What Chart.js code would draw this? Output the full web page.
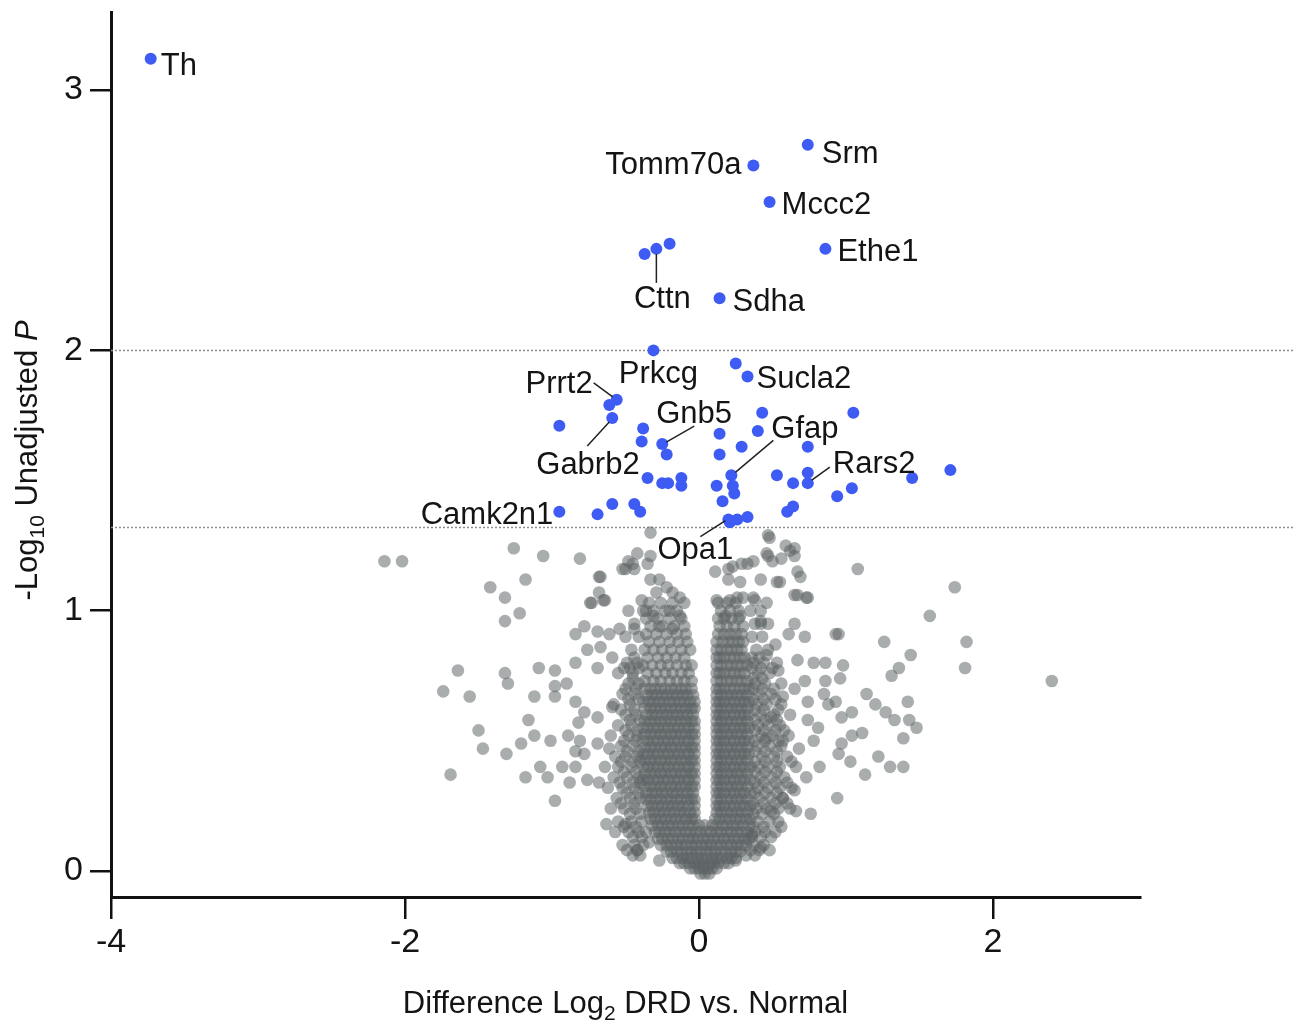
<!DOCTYPE html>
<html>
<head>
<meta charset="utf-8">
<script src="https://cdn.jsdelivr.net/npm/chart.js@4.4.0/dist/chart.umd.min.js"></script>
<style>
  body { margin: 0; background: #fff; }
  #volcano { display: block; }
</style>
</head>
<body>
<canvas id="volcano" width="1295" height="1022"></canvas>
<script>
// axis ticks and significance cut-offs
const xTicks = [-4, -2, 0, 2]
const yTicks = [0, 1, 2, 3]
const thresholds = [2.0, 1.32]

// highlighted proteins (blue)
const hitX = [-3.73, 0.74, 0.37, 0.48, 0.86, -0.37, -0.29, -0.20, 0.14, -0.31,
              0.25, 0.33, -0.56, -0.61, -0.59, -0.95, -0.38, -0.39, -0.25, -0.22,
              -0.35, -0.25, -0.21, -0.12, -0.12, -0.59, -0.44, -0.40, -0.69, -0.95,
              0.43, 1.05, 0.40, 0.14, 0.14, 0.29, 0.74, 0.22, 0.53, 0.74,
              0.74, 0.64, 0.12, 0.23, 0.24, 0.16, 0.94, 1.04, 0.60, 0.64,
              0.20, 0.26, 0.33, 0.21, 1.45, 1.71]
const hitY = [3.12, 2.79, 2.71, 2.57, 2.39, 2.37, 2.39, 2.41, 2.20, 2.00,
              1.95, 1.90, 1.81, 1.79, 1.74, 1.71, 1.70, 1.65, 1.64, 1.60,
              1.51, 1.49, 1.49, 1.51, 1.48, 1.41, 1.41, 1.38, 1.37, 1.38,
              1.76, 1.76, 1.69, 1.68, 1.60, 1.63, 1.63, 1.52, 1.52, 1.53,
              1.49, 1.49, 1.48, 1.48, 1.45, 1.42, 1.44, 1.47, 1.38, 1.40,
              1.35, 1.35, 1.36, 1.34, 1.51, 1.54]
const hitNames = ['Th', 'Srm', 'Tomm70a', 'Mccc2', 'Ethe1', '', 'Cttn', '', 'Sdha', 'Prkcg',
                  '', 'Sucla2', 'Prrt2', '', 'Gabrb2', '', '', '', 'Gnb5', '',
                  '', '', '', '', '', '', '', '', '', 'Camk2n1',
                  '', '', '', '', '', '', '', 'Gfap', '', '',
                  'Rars2', '', '', '', '', '', '', '', '', '',
                  'Opa1', '', '', '', '', '']

// scattered grey proteins [x, y]
const grayScatter = [
  [-2.14, 1.19], [-2.02, 1.19], [-1.26, 1.24], [-1.06, 1.21], [-0.81, 1.20], [-1.18, 1.12], [-1.42, 1.09],
  [-1.32, 1.05], [-1.22, 0.99], [-1.32, 0.96], [-0.68, 1.13], [-0.68, 1.07], [-0.74, 1.03], [-0.64, 1.04],
  [-0.52, 1.16], [-0.44, 1.16], [-0.48, 1.19], [-0.42, 1.22], [-0.33, 1.21], [-0.33, 1.30],
  [-1.64, 0.77], [-1.74, 0.69], [-1.56, 0.67], [-1.32, 0.76], [-1.30, 0.72], [-1.12, 0.67], [-1.09, 0.78],
  [-0.98, 0.77], [-0.98, 0.71], [-0.98, 0.67], [-0.90, 0.72], [-0.84, 0.65], [-0.84, 0.91], [-0.78, 0.94],
  [-0.69, 0.92], [-0.61, 0.91], [-0.54, 0.93], [-0.44, 0.93], [-0.76, 0.85], [-0.67, 0.86], [-0.84, 0.80],
  [-0.69, 0.78], [-0.59, 0.82], [-0.51, 0.78],
  [-1.16, 0.58], [-1.50, 0.54], [-1.47, 0.47], [-1.31, 0.45], [-1.21, 0.49], [-1.12, 0.52], [-1.01, 0.50],
  [-0.89, 0.52], [-0.82, 0.57], [-0.78, 0.61], [-0.69, 0.59], [-0.59, 0.63], [-0.81, 0.50], [-0.84, 0.46],
  [-0.78, 0.45], [-0.69, 0.49], [-0.61, 0.47],
  [-1.69, 0.37], [-1.18, 0.36], [-1.08, 0.40], [-1.03, 0.36], [-0.93, 0.40], [-0.88, 0.34], [-0.84, 0.40],
  [-0.76, 0.35], [-0.68, 0.34], [-0.98, 0.27], [-0.63, 0.18], [-0.57, 0.15], [-0.50, 0.18], [-0.42, 0.08],
  [-0.27, 0.04], [-0.34, 0.11],
  [-0.67, 1.13], [-0.50, 1.16], [-0.45, 1.18], [-0.35, 1.18], [-0.73, 1.03], [-0.65, 1.04], [-0.33, 1.12],
  [-0.27, 1.12], [-0.22, 1.09], [-0.39, 1.04], [-0.29, 1.07], [-0.18, 1.07], [-0.13, 1.05], [-0.38, 1.00],
  [-0.31, 0.98], [-0.20, 1.00], [-0.13, 0.98], [-0.27, 0.94], [-0.18, 0.93],
  [0.48, 1.28], [0.59, 1.25], [0.65, 1.24], [0.65, 1.21], [0.47, 1.21], [0.56, 1.20], [0.50, 1.19],
  [0.37, 1.19], [0.29, 1.18], [0.11, 1.15], [0.20, 1.16], [1.08, 1.16], [1.74, 1.09], [1.57, 0.98],
  [1.82, 0.88], [1.81, 0.78], [2.40, 0.73], [0.95, 0.91], [1.26, 0.88], [1.44, 0.83], [1.36, 0.78],
  [1.31, 0.75],
  [0.69, 1.13], [0.55, 1.11], [0.42, 1.12], [0.37, 1.05], [0.46, 1.03], [0.73, 1.05], [0.65, 1.06],
  [0.42, 0.95], [0.65, 0.95], [0.61, 0.91], [0.72, 0.90], [0.52, 0.87], [0.46, 0.83], [0.67, 0.81],
  [0.78, 0.80], [0.86, 0.80], [0.98, 0.79], [0.96, 0.74], [0.86, 0.73], [0.72, 0.73], [0.54, 0.77],
  [1.14, 0.68], [1.20, 0.64], [1.27, 0.61], [1.33, 0.58], [1.42, 0.65], [1.43, 0.58], [1.48, 0.55],
  [1.39, 0.51], [1.22, 0.44], [1.30, 0.40], [1.39, 0.40], [1.13, 0.37], [1.03, 0.42], [0.94, 0.28],
  [0.76, 0.22], [0.66, 0.23], [0.54, 0.19], [0.42, 0.09], [0.36, 0.14], [0.25, 0.04],
  [0.95, 0.45], [0.97, 0.49], [0.82, 0.40], [1.11, 0.53], [1.04, 0.52], [0.97, 0.59], [1.04, 0.61],
  [0.74, 0.58], [0.74, 0.65], [0.93, 0.65], [0.85, 0.68], [0.65, 0.70], [0.57, 0.67], [0.49, 0.59],
  [0.57, 0.50], [0.46, 0.51], [0.68, 0.47], [0.78, 0.50], [0.73, 0.36], [0.65, 0.31], [0.57, 0.28],
  [0.49, 0.23], [0.81, 0.55], [0.88, 0.64],
  [0.47, 1.29], [0.23, 1.17], [0.33, 1.18], [0.46, 1.22], [0.62, 1.23], [0.67, 1.15], [0.53, 1.11],
  [0.28, 1.11], [0.20, 1.12], [0.12, 1.04], [0.21, 1.04], [0.38, 1.04], [0.67, 1.06], [0.74, 1.05],
  [0.18, 0.98], [0.28, 0.98], [0.42, 0.96], [0.93, 0.91]
]

// dense grey proteins near zero, one row per y value: [y, [x, x, ...]]
const denseRows = [
  [-0.01, [0.01, 0.04, 0.07]],
  [0.01, [-0.06, -0.03, 0.00, 0.03, 0.06, 0.09, 0.12]],
  [0.03, [-0.13, -0.10, -0.07, -0.03, 0.00, 0.03, 0.07, 0.10, 0.13, 0.17, 0.20]],
  [0.05, [-0.18, -0.15, -0.11, -0.08, -0.05, -0.01, 0.02, 0.05, 0.09, 0.12, 0.15, 0.19, 0.22, 0.25]],
  [0.075, [-0.22, -0.19, -0.15, -0.12, -0.08, -0.05, -0.02, 0.01, 0.05, 0.08, 0.11, 0.15, 0.18, 0.22, 0.25, 0.28]],
  [0.10, [-0.26, -0.22, -0.19, -0.15, -0.12, -0.09, -0.05, -0.02, 0.02, 0.05, 0.08, 0.12, 0.15, 0.19, 0.22, 0.26, 0.29, 0.32]],
  [0.125, [-0.28, -0.25, -0.21, -0.18, -0.14, -0.11, -0.07, -0.04, -0.01, 0.03, 0.06, 0.10, 0.13, 0.17, 0.20, 0.24, 0.27, 0.31, 0.34]],
  [0.15, [-0.30, -0.27, -0.23, -0.20, -0.16, -0.13, -0.09, -0.06, -0.02, 0.01, 0.05, 0.08, 0.12, 0.15, 0.19, 0.22, 0.26, 0.29, 0.33]],
  [0.175, [-0.32, -0.28, -0.25, -0.21, -0.18, -0.14, -0.11, -0.07, -0.04, 0.00, 0.04, 0.09, 0.12, 0.16, 0.19, 0.23, 0.26, 0.30, 0.34]],
  [0.20, [-0.33, -0.30, -0.26, -0.23, -0.19, -0.16, -0.12, -0.09, -0.05, -0.03, 0.11, 0.14, 0.18, 0.21, 0.25, 0.28, 0.32, 0.35]],
  [0.225, [-0.34, -0.31, -0.27, -0.24, -0.20, -0.17, -0.13, -0.10, -0.06, -0.03, 0.12, 0.15, 0.19, 0.22, 0.26, 0.29, 0.33]],
  [0.25, [-0.35, -0.32, -0.28, -0.25, -0.21, -0.18, -0.14, -0.11, -0.07, -0.03, 0.12, 0.14, 0.17, 0.21, 0.24, 0.28, 0.31, 0.35]],
  [0.275, [-0.36, -0.33, -0.29, -0.26, -0.22, -0.19, -0.15, -0.12, -0.08, -0.05, -0.03, 0.12, 0.15, 0.19, 0.22, 0.26, 0.29, 0.33]],
  [0.30, [-0.36, -0.32, -0.29, -0.25, -0.22, -0.18, -0.15, -0.11, -0.08, -0.04, 0.12, 0.14, 0.17, 0.21, 0.24, 0.28, 0.31, 0.35]],
  [0.325, [-0.37, -0.33, -0.30, -0.26, -0.23, -0.19, -0.16, -0.12, -0.09, -0.05, -0.03, 0.12, 0.15, 0.19, 0.22, 0.26, 0.29, 0.33]],
  [0.35, [-0.38, -0.35, -0.31, -0.28, -0.24, -0.21, -0.17, -0.14, -0.10, -0.07, -0.03, 0.12, 0.14, 0.17, 0.21, 0.24, 0.28, 0.31, 0.35]],
  [0.375, [-0.37, -0.33, -0.30, -0.26, -0.23, -0.19, -0.16, -0.12, -0.09, -0.05, -0.03, 0.12, 0.15, 0.19, 0.22, 0.26, 0.29, 0.33]],
  [0.40, [-0.38, -0.35, -0.31, -0.28, -0.24, -0.21, -0.17, -0.14, -0.10, -0.07, -0.03, 0.12, 0.14, 0.17, 0.21, 0.24, 0.28, 0.31, 0.35]],
  [0.425, [-0.37, -0.33, -0.30, -0.26, -0.23, -0.19, -0.16, -0.12, -0.09, -0.05, -0.03, 0.12, 0.15, 0.19, 0.22, 0.26, 0.29, 0.33]],
  [0.45, [-0.38, -0.35, -0.31, -0.28, -0.24, -0.21, -0.17, -0.14, -0.10, -0.07, -0.03, 0.12, 0.14, 0.17, 0.21, 0.24, 0.28, 0.31, 0.34]],
  [0.475, [-0.37, -0.33, -0.30, -0.26, -0.23, -0.19, -0.16, -0.12, -0.09, -0.05, -0.03, 0.12, 0.15, 0.19, 0.22, 0.26, 0.29, 0.33]],
  [0.50, [-0.38, -0.35, -0.31, -0.28, -0.24, -0.21, -0.17, -0.14, -0.10, -0.07, -0.03, 0.12, 0.14, 0.17, 0.21, 0.24, 0.28, 0.31, 0.34]],
  [0.525, [-0.37, -0.33, -0.30, -0.26, -0.23, -0.19, -0.16, -0.12, -0.09, -0.05, -0.03, 0.12, 0.15, 0.19, 0.22, 0.26, 0.29, 0.33]],
  [0.55, [-0.38, -0.35, -0.31, -0.28, -0.24, -0.21, -0.17, -0.14, -0.10, -0.07, -0.03, 0.12, 0.14, 0.17, 0.21, 0.24, 0.28, 0.31, 0.34]],
  [0.575, [-0.37, -0.33, -0.30, -0.26, -0.23, -0.19, -0.16, -0.12, -0.09, -0.05, -0.03, 0.12, 0.15, 0.19, 0.22, 0.26, 0.29, 0.33]],
  [0.60, [-0.36, -0.32, -0.29, -0.25, -0.22, -0.18, -0.15, -0.11, -0.08, -0.04, 0.12, 0.14, 0.17, 0.21, 0.24, 0.28, 0.31, 0.34]],
  [0.625, [-0.37, -0.33, -0.30, -0.26, -0.23, -0.19, -0.16, -0.12, -0.09, -0.05, -0.03, 0.12, 0.15, 0.19, 0.22, 0.26, 0.29, 0.33]],
  [0.65, [-0.38, -0.34, -0.31, -0.27, -0.24, -0.20, -0.17, -0.13, -0.10, -0.06, -0.03, 0.12, 0.14, 0.17, 0.21, 0.24, 0.28, 0.31, 0.34]],
  [0.675, [-0.36, -0.32, -0.29, -0.25, -0.22, -0.18, -0.15, -0.11, -0.08, -0.04, 0.12, 0.15, 0.19, 0.22, 0.26, 0.29, 0.33]],
  [0.70, [-0.37, -0.33, -0.30, -0.26, -0.23, -0.19, -0.16, -0.12, -0.09, -0.05, 0.12, 0.14, 0.17, 0.21, 0.24, 0.28, 0.31, 0.34]],
  [0.73, [-0.37, -0.31, -0.26, -0.20, -0.15, -0.10, -0.05, 0.12, 0.15, 0.19, 0.22, 0.26, 0.29, 0.33]],
  [0.76, [-0.35, -0.29, -0.23, -0.18, -0.12, -0.07, 0.12, 0.14, 0.17, 0.21, 0.24, 0.28, 0.31]],
  [0.79, [-0.38, -0.32, -0.26, -0.21, -0.15, -0.09, -0.05, 0.12, 0.15, 0.19, 0.22, 0.26, 0.29, 0.33]],
  [0.82, [-0.35, -0.28, -0.22, -0.16, -0.10, 0.12, 0.14, 0.17, 0.21, 0.24, 0.28, 0.31]],
  [0.85, [-0.37, -0.31, -0.25, -0.19, -0.12, -0.06, 0.12, 0.15, 0.19, 0.22, 0.26, 0.29]],
  [0.88, [-0.34, -0.27, -0.20, -0.14, -0.08, 0.12, 0.16, 0.20, 0.23, 0.27, 0.30]],
  [0.91, [-0.36, -0.29, -0.22, -0.15, -0.09, 0.13, 0.17, 0.21, 0.25, 0.29]],
  [0.94, [-0.33, -0.25, -0.17, -0.10, 0.14, 0.19, 0.24, 0.30]],
  [0.97, [-0.36, -0.28, -0.20, -0.12, 0.13, 0.17, 0.22, 0.27]],
  [1.00, [-0.31, -0.23, -0.15, 0.15, 0.21, 0.27]],
  [1.03, [-0.34, -0.26, -0.18, -0.10, 0.13, 0.19, 0.25]]
]

// grey proteins flanking the dense core
const wingRows = [
  [0.06, [-0.45, -0.40, 0.32, 0.38]],
  [0.08, [-0.49, -0.42, 0.35, 0.41, 0.48]],
  [0.10, [-0.52, -0.44, -0.38, 0.37, 0.44]],
  [0.13, [-0.45, -0.39, 0.36, 0.42, 0.49]],
  [0.15, [-0.48, -0.41, -0.36, 0.38, 0.45, 0.52]],
  [0.17, [-0.51, -0.43, 0.37, 0.44, 0.56]],
  [0.19, [-0.55, -0.46, -0.39, 0.40, 0.48]],
  [0.22, [-0.47, -0.40, 0.37, 0.43, 0.51]],
  [0.24, [-0.60, -0.51, -0.43, 0.39, 0.46, 0.54, 0.62]],
  [0.26, [-0.53, -0.44, 0.37, 0.44, 0.52, 0.60]],
  [0.28, [-0.56, -0.47, -0.40, 0.41, 0.49, 0.57]],
  [0.30, [-0.49, -0.41, 0.38, 0.45, 0.53]],
  [0.32, [-0.62, -0.52, -0.44, 0.40, 0.47, 0.55, 0.63]],
  [0.34, [-0.54, -0.45, -0.40, 0.38, 0.44, 0.52, 0.60]],
  [0.36, [-0.58, -0.49, -0.41, 0.42, 0.50, 0.58]],
  [0.38, [-0.51, -0.43, 0.38, 0.45, 0.53]],
  [0.40, [-0.64, -0.55, -0.46, 0.40, 0.47, 0.55, 0.66]],
  [0.42, [-0.53, -0.45, -0.40, 0.38, 0.45, 0.53, 0.63]],
  [0.44, [-0.57, -0.50, -0.42, 0.43, 0.51, 0.60]],
  [0.46, [-0.49, -0.41, 0.38, 0.45, 0.53]],
  [0.48, [-0.53, -0.45, 0.40, 0.48, 0.56]],
  [0.50, [-0.51, -0.43, 0.38, 0.45, 0.54]],
  [0.52, [-0.60, -0.48, -0.42, 0.42, 0.50, 0.61]],
  [0.54, [-0.50, -0.42, 0.38, 0.44, 0.52, 0.58]],
  [0.56, [-0.55, -0.46, 0.40, 0.47, 0.55]],
  [0.58, [-0.47, -0.40, 0.38, 0.45, 0.53]],
  [0.60, [-0.50, -0.43, 0.42, 0.51, 0.62]],
  [0.62, [-0.53, -0.44, 0.38, 0.44, 0.54]],
  [0.64, [-0.58, -0.47, 0.39, 0.46, 0.56]],
  [0.66, [-0.48, -0.41, 0.37, 0.44, 0.52]],
  [0.68, [-0.52, -0.44, 0.41, 0.49]],
  [0.70, [-0.50, -0.43, 0.37, 0.43, 0.51]],
  [0.72, [-0.48, -0.41, 0.38, 0.45, 0.56]],
  [0.74, [-0.45, 0.37, 0.43]],
  [0.76, [-0.55, -0.45, 0.40, 0.48]],
  [0.78, [-0.47, -0.41, 0.36, 0.42, 0.50]],
  [0.80, [-0.49, -0.42, 0.37, 0.44, 0.53]],
  [0.82, [-0.44, 0.36, 0.41]],
  [0.85, [-0.46, 0.39, 0.47]],
  [0.90, [-0.50, -0.41, 0.36, 0.43]],
  [0.95, [-0.44, 0.38, 0.47]],
  [1.00, [-0.48, -0.36, 0.35, 0.42]],
  [1.05, [0.26, 0.30]]
]

// label placement: offset of text from its point (px), optional leader line
const labelLayout = {
  Th: { dx: 10, dy: 5, align: 'left' },
  Srm: { dx: 14, dy: 7, align: 'left' },
  Tomm70a: { dx: -12, dy: -3, align: 'right' },
  Mccc2: { dx: 12, dy: 1, align: 'left' },
  Ethe1: { dx: 12, dy: 1, align: 'left' },
  Cttn: { dx: 6, dy: 48, align: 'center', line: [0, 5, 0, 34] },
  Sdha: { dx: 13, dy: 2, align: 'left' },
  Prkcg: { dx: 5, dy: 22, align: 'center' },
  Sucla2: { dx: 9, dy: 1, align: 'left' },
  Prrt2: { dx: -24, dy: -18, align: 'right', line: [-23, -17, -4, -3] },
  Gnb5: { dx: -6, dy: -32, align: 'left', line: [32, -18, 4, -2] },
  Gfap: { dx: 40, dy: -48, align: 'left', line: [42, -35, 4, -3] },
  Gabrb2: { dx: -76, dy: 45, align: 'left', line: [-3, 4, -25, 28] },
  Rars2: { dx: 25, dy: -21, align: 'left', line: [22, -16, 4, -3] },
  Camk2n1: { dx: -6, dy: 1, align: 'right' },
  Opa1: { dx: -71, dy: 28, align: 'left', line: [-28, 17, -3, 1] }
}

const FONT = '"Liberation Sans", Arial, Helvetica, sans-serif'
Chart.defaults.font.family = FONT

const grayPoints = []
grayScatter.forEach(p => grayPoints.push({ x: p[0], y: p[1] }))
denseRows.concat(wingRows).forEach(row => {
  row[1].forEach(x => grayPoints.push({ x: x, y: row[0] }))
})
const hitPoints = hitX.map((x, i) => ({ x: x, y: hitY[i] }))

// dotted cut-off lines, running past the end of the x axis
const thresholdLines = {
  id: 'thresholdLines',
  beforeDatasetsDraw(chart) {
    const c = chart.ctx
    const ys = chart.scales.y
    c.save()
    c.strokeStyle = '#8e8e8e'
    c.lineWidth = 1.5
    c.setLineDash([2, 2])
    thresholds.forEach(v => {
      const py = Math.round(ys.getPixelForValue(v)) + 0.5
      c.beginPath()
      c.moveTo(chart.chartArea.left, py)
      c.lineTo(chart.width, py)
      c.stroke()
    })
    c.restore()
  }
}

const geneLabels = {
  id: 'geneLabels',
  afterDatasetsDraw(chart) {
    const c = chart.ctx
    const xs = chart.scales.x
    const ys = chart.scales.y
    c.save()
    c.font = '31px ' + FONT
    c.fillStyle = '#141414'
    c.strokeStyle = '#222'
    c.lineWidth = 1.5
    hitNames.forEach((name, i) => {
      if (!name) return
      const L = labelLayout[name]
      const px = xs.getPixelForValue(hitX[i])
      const py = ys.getPixelForValue(hitY[i])
      if (L.line) {
        c.beginPath()
        c.moveTo(px + L.line[0], py + L.line[1])
        c.lineTo(px + L.line[2], py + L.line[3])
        c.stroke()
      }
      c.textAlign = L.align
      c.textBaseline = 'alphabetic'
      c.fillText(name, px + L.dx, py + L.dy + 11)
    })
    c.restore()
  }
}

// axis titles with subscripts / italic part
function drawParts(c, parts, cx, baseline) {
  const fonts = parts.map(p => (p.italic ? 'italic ' : '') + (p.sub ? '21px ' : '31px ') + FONT)
  const widths = parts.map((p, i) => { c.font = fonts[i]; return c.measureText(p.text).width })
  let x = cx - widths.reduce((a, b) => a + b, 0) / 2
  c.textAlign = 'left'
  c.textBaseline = 'alphabetic'
  parts.forEach((p, i) => {
    c.font = fonts[i]
    c.fillText(p.text, x, baseline + (p.sub ? 7 : 0))
    x += widths[i]
  })
}

const axisTitles = {
  id: 'axisTitles',
  afterDraw(chart) {
    const c = chart.ctx
    const area = chart.chartArea
    c.save()
    c.fillStyle = '#141414'
    drawParts(c, [{ text: 'Difference Log' }, { text: '2', sub: true }, { text: ' DRD vs. Normal' }],
      (area.left + area.right) / 2, 1013)
    c.translate(37, (area.top + area.bottom) / 2 + 6)
    c.rotate(-Math.PI / 2)
    drawParts(c, [{ text: '-Log' }, { text: '10', sub: true }, { text: ' Unadjusted ' }, { text: 'P', italic: true }], 0, 0)
    c.restore()
  }
}

const config = {
  type: 'scatter',
  data: {
    datasets: [{
      label: 'significant',
      data: hitPoints,
      backgroundColor: '#3e5cf3',
      borderWidth: 0,
      pointRadius: 6,
      order: 1
    }, {
      label: 'all proteins',
      data: grayPoints,
      backgroundColor: 'rgba(92,97,100,0.52)',
      borderWidth: 0,
      pointRadius: 6.3,
      order: 2
    }]
  },
  options: {
    responsive: false,
    animation: false,
    events: [],
    layout: { padding: { left: 0, top: 12, right: 155, bottom: 0 } },
    plugins: { legend: { display: false }, tooltip: { enabled: false } },
    scales: {
      x: {
        type: 'linear',
        min: -4,
        max: 3,
        afterBuildTicks: s => { s.ticks = xTicks.map(v => ({ value: v })) },
        afterFit: s => { s.height = 125; s.paddingLeft = 0; s.paddingRight = 0 },
        border: { color: '#111', width: 3 },
        grid: { drawOnChartArea: false, drawTicks: true, tickLength: 22, color: '#111', lineWidth: 2.5 },
        ticks: { color: '#141414', font: { size: 34 }, padding: 3, maxRotation: 0 }
      },
      y: {
        type: 'linear',
        min: -0.1,
        max: 3.3,
        afterBuildTicks: s => { s.ticks = yTicks.map(v => ({ value: v })) },
        afterFit: s => { s.width = 111; s.paddingTop = 0; s.paddingBottom = 0 },
        border: { color: '#111', width: 3 },
        grid: { drawOnChartArea: false, drawTicks: true, tickLength: 21, color: '#111', lineWidth: 2.5 },
        ticks: { color: '#141414', font: { size: 34 }, padding: 7 }
      }
    }
  },
  plugins: [thresholdLines, geneLabels, axisTitles]
}

let volcanoChart = new Chart(document.getElementById('volcano'), config)
</script>
</body>
</html>
